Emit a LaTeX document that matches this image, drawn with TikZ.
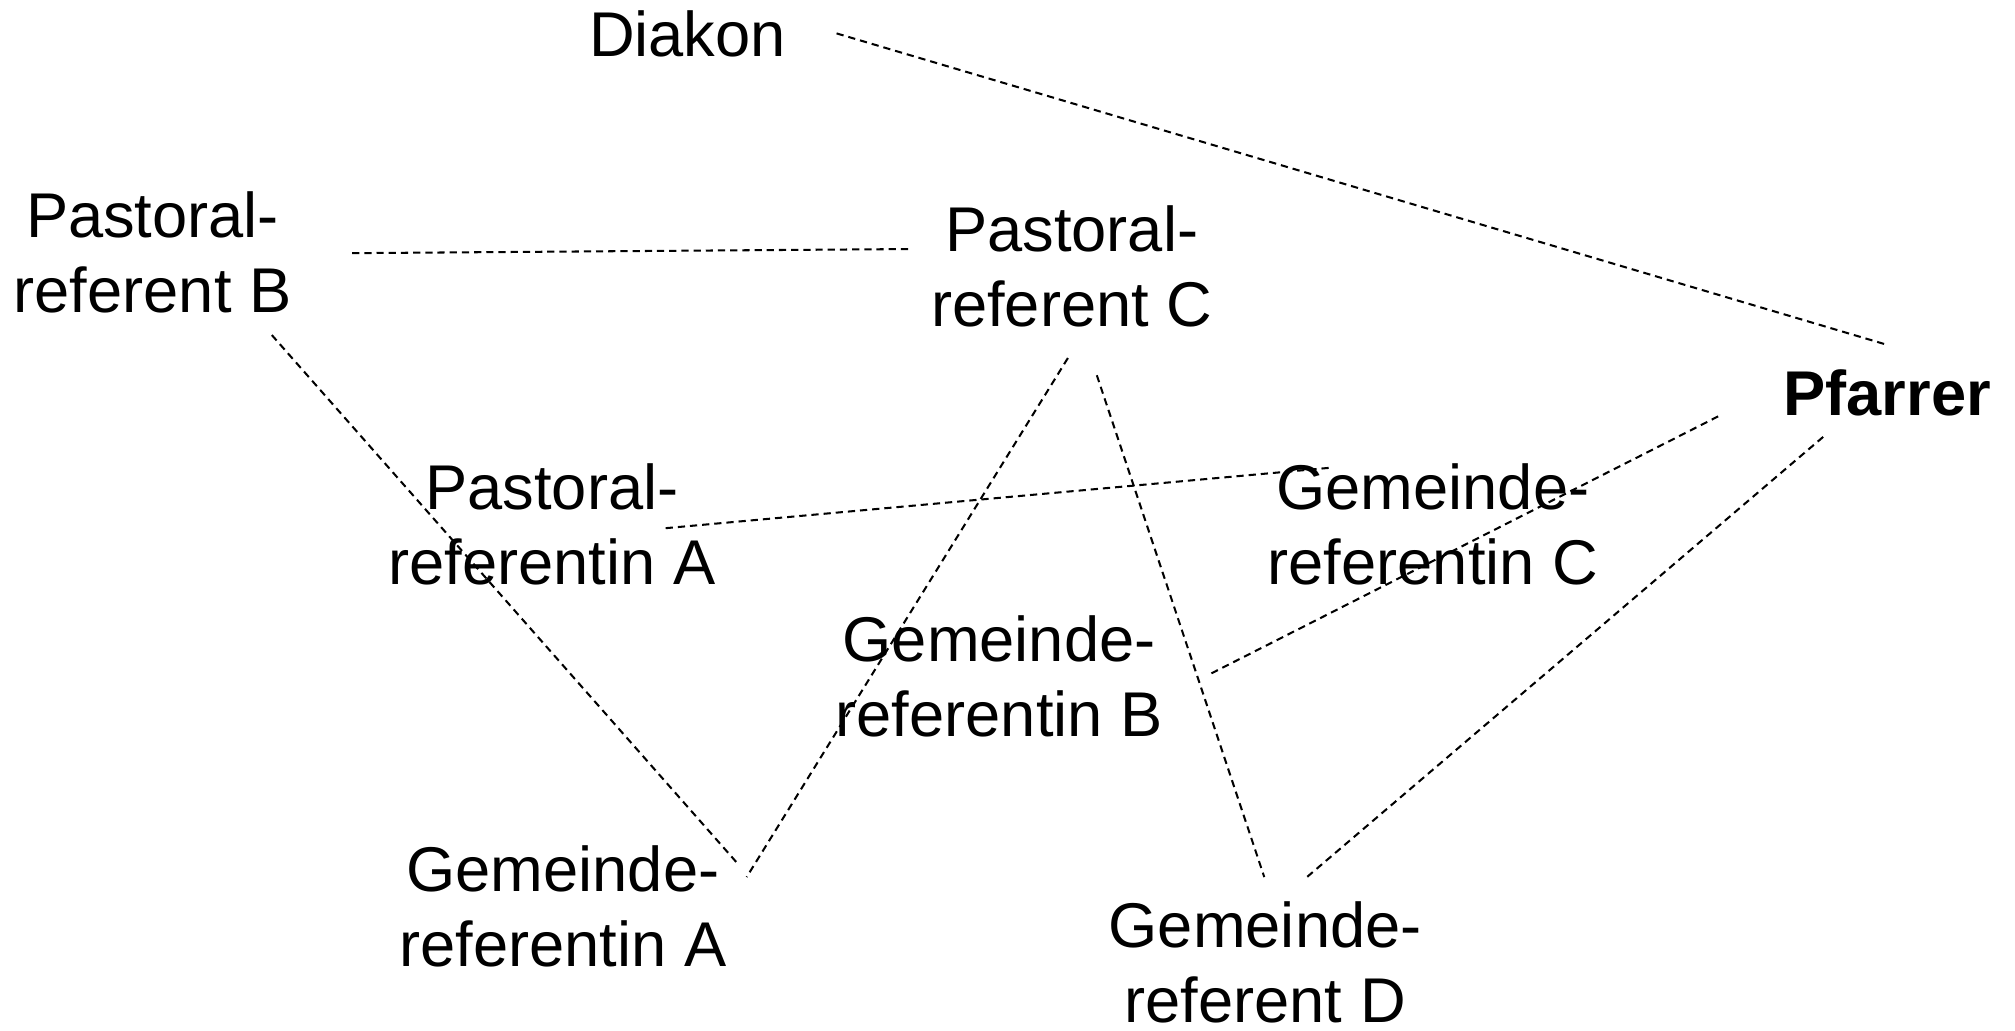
\documentclass[tikz,border=0pt]{standalone}
\usepackage{fontspec}
\setmainfont{Liberation Sans}
\usepackage{tikz}
\usetikzlibrary{positioning}

\begin{document}
\begin{tikzpicture}[
  person/.style={align=center,inner sep=0pt,font=\fontsize{14}{16.6}\selectfont},
  rel/.style={line width=0.45pt,dash pattern=on 1.6pt off 1.1pt}
]
\useasboundingbox (0,0) rectangle (15.68,8.02);
\node[person] (diakon) at (5.35,7.754) {Diakon};
\node[person,font=\fontsize{14}{16.6}\selectfont\bfseries] (pfarrer) at (14.685,4.96) {Pfarrer};
\node[person] (prefB) at (1.187,6.055) {Pastoral-\\referent B};
\node[person] (prefC) at (8.34,5.946) {Pastoral-\\referent C};
\node[person] (prefA) at (4.295,3.938) {Pastoral-\\referentin A};
\node[person] (grefC) at (11.15,3.938) {Gemeinde-\\referentin C};
\node[person] (grefB) at (7.775,2.76) {Gemeinde-\\referentin B};
\node[person] (grefA) at (4.38,0.966) {Gemeinde-\\referentin A};
\node[person] (grefD) at (9.845,0.53) {Gemeinde-\\referent D};
\draw[rel] ([shift={(1.16,0.006)}]diakon.center) -- ([shift={(0.005,0.375)}]pfarrer.center);
\draw[rel] ([shift={(1.553,-0.005)}]prefB.center) -- ([shift={(-1.26,0.136)}]prefC.center);
\draw[rel] ([shift={(0.928,-0.642)}]prefB.center) -- ([shift={(1.36,0.334)}]grefA.center);
\draw[rel] ([shift={(-0.03,-0.712)}]prefC.center) -- ([shift={(1.43,0.229)}]grefA.center);
\draw[rel] ([shift={(0.195,-0.846)}]prefC.center) -- ([shift={(-0.007,0.665)}]grefD.center);
\draw[rel] ([shift={(0.885,-0.028)}]prefA.center) -- ([shift={(-0.80,0.442)}]grefC.center);
\draw[rel] ([shift={(-1.315,-0.18)}]pfarrer.center) -- ([shift={(1.641,0.015)}]grefB.center);
\draw[rel] ([shift={(-0.498,-0.34)}]pfarrer.center) -- ([shift={(0.325,0.665)}]grefD.center);
\end{tikzpicture}
\end{document}
